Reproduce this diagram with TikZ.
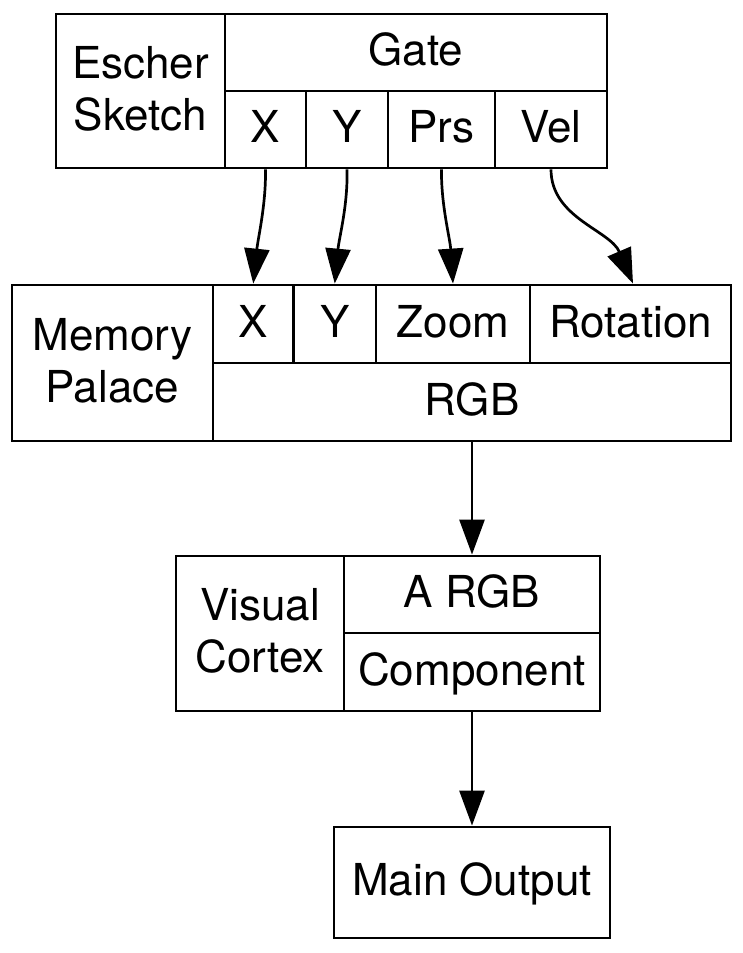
\documentclass[tikz,border=0pt]{standalone}
\usepackage{fontspec}
\setmainfont{TeX Gyre Heros}
\usetikzlibrary{arrows.meta,calc}
\begin{document}
\begin{tikzpicture}[x=1pt,y=-1pt,
  cell/.style={draw,line width=2.8pt,inner sep=0pt,minimum width=#1,text height=32pt,text depth=6pt,
    font=\fontsize{44}{52}\selectfont},
  txt/.style={inner sep=0pt,anchor=base,font=\fontsize{44}{52}\selectfont},
  arr/.style={line width=2.7pt,-{Triangle[length=35pt,width=25pt]}}]
\useasboundingbox (0,0) rectangle (743,953);
% Escher Sketch record
\node[cell=169pt,minimum height=154pt] (esk) at (140.5,91) {};
\node[txt] (esk1) at (140.5,78) {Escher};
\node[txt] (esk2) at (140.5,130) {Sketch};
\node[cell=382pt,minimum height=77pt] (gate) at (416,52.5) {Gate};
\node[cell=81pt,minimum height=77pt] (ex) at (265.5,129.5) {X};
\node[cell=82pt,minimum height=77pt] (ey) at (347,129.5) {Y};
\node[cell=107pt,minimum height=77pt] (eprs) at (441.5,129.5) {Prs};
\node[cell=112pt,minimum height=77pt] (evel) at (551,129.5) {Vel};
% Memory Palace record
\node[cell=201pt,minimum height=156pt] (mp) at (112.5,363) {};
\node[txt] (mp1) at (112.5,350) {Memory};
\node[txt] (mp2) at (112.5,402) {Palace};
\node[cell=80.5pt,minimum height=78pt] (mx) at (253.25,324) {X};
\node[cell=82.5pt,minimum height=78pt] (my) at (334.75,324) {Y};
\node[cell=154pt,minimum height=78pt] (mzoom) at (453,324) {Zoom};
\node[cell=201pt,minimum height=78pt] (mrot) at (630.5,324) {Rotation};
\node[cell=518pt,minimum height=78pt] (mrgb) at (472,402) {RGB};
% Visual Cortex record
\node[cell=168pt,minimum height=155pt] (vc) at (260,633.5) {};
\node[txt] (vc1) at (260,620.5) {Visual};
\node[txt] (vc2) at (260,672.5) {Cortex};
\node[cell=256pt,minimum height=77pt] (argb) at (472,594.5) {A RGB};
\node[cell=256pt,minimum height=78pt] (comp) at (472,672) {Component};
% Main Output
\node[cell=276pt,minimum height=111pt] (mout) at (472,882.5) {Main Output};
% connectors
\draw[arr] (ex.south) .. controls (266,205) and (258,238) .. (mx.north);
\draw[arr] (ey.south) .. controls (348,205) and (339,238) .. (my.north);
\draw[arr] (eprs.south) .. controls (441,205) and (450,238) .. (mzoom.north);
\draw[arr] (evel.south) .. controls (551,218) and (610,230) .. ($(mrot.north)+(2.5,0)$);
\draw[arr] (mrgb.south) -- (argb.north);
\draw[arr] (comp.south) -- (mout.north);
\end{tikzpicture}
\end{document}
